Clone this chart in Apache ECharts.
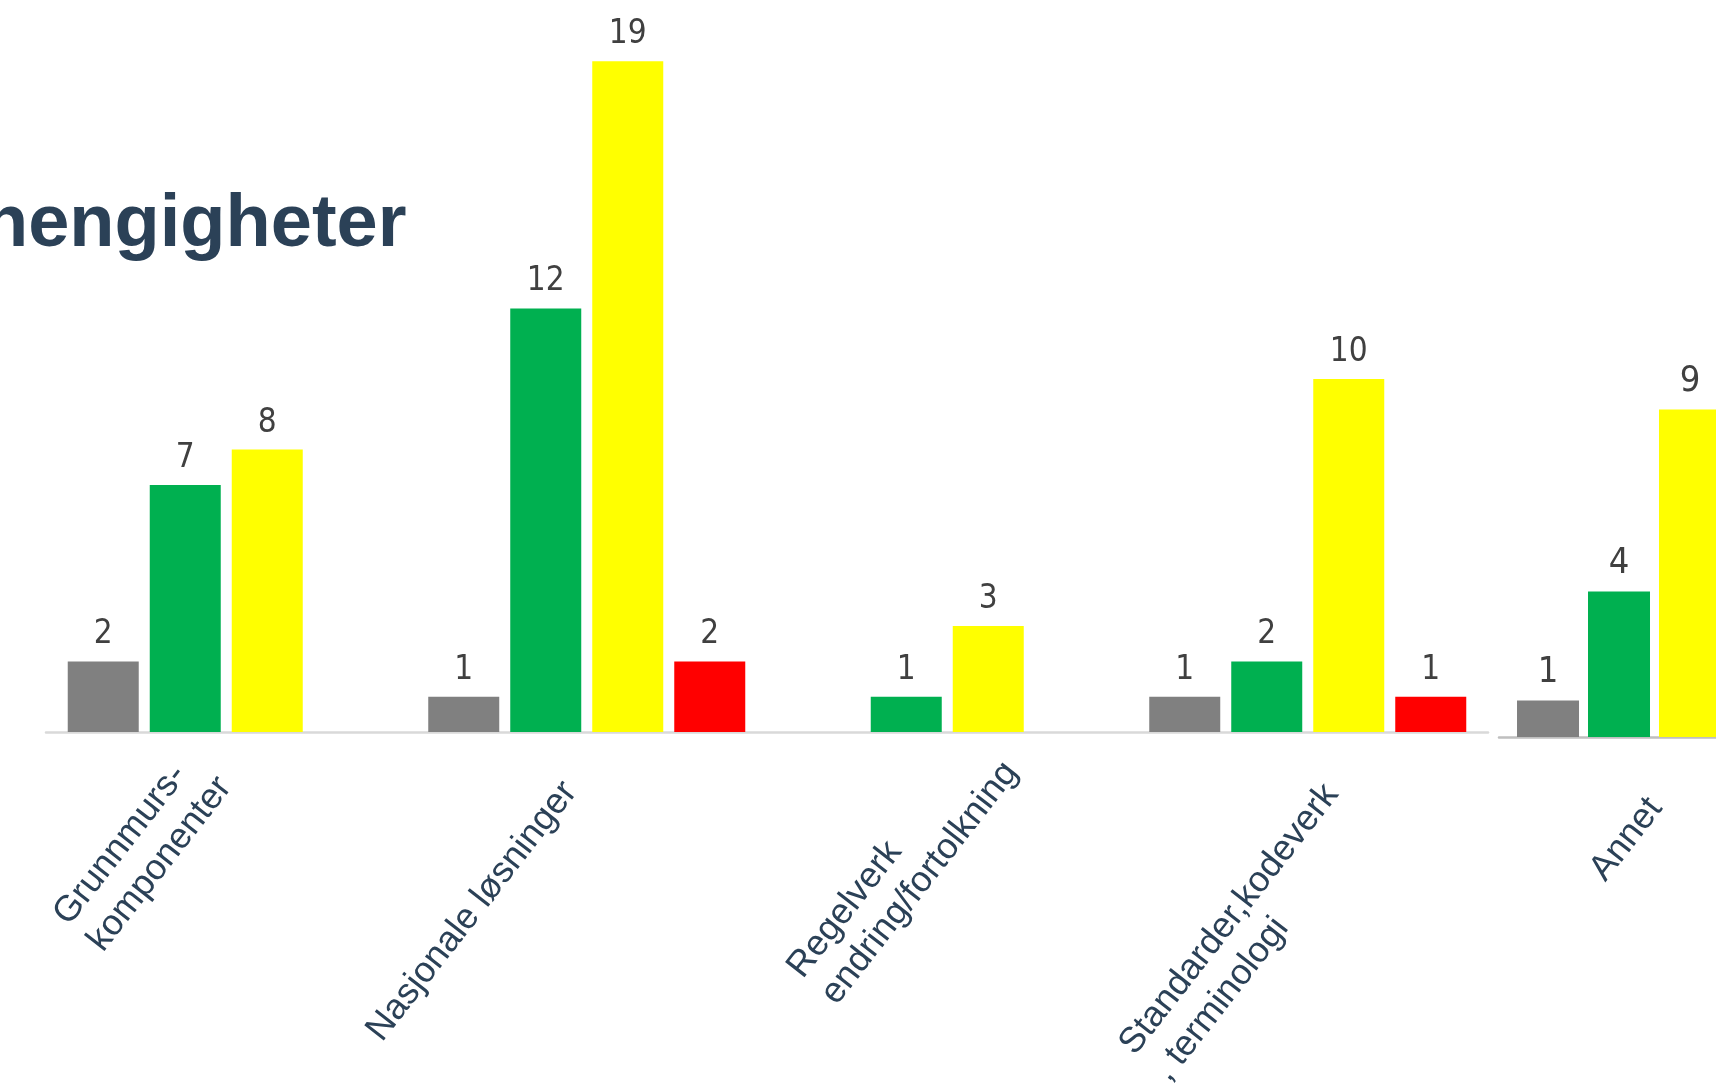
<!DOCTYPE html>
<html>
<head>
<meta charset="utf-8">
<script src="https://cdn.jsdelivr.net/npm/echarts@6/dist/echarts.min.js"></script>
<style>
  html, body { margin: 0; padding: 0; background: #fff; }
  #chart { width: 1716px; height: 1083px; }
</style>
</head>
<body>
<div id="chart"></div>
<script>
// main chart
const categories = ['Grunnmurs-\nkomponenter', 'Nasjonale løsninger', 'Regelverk\nendring/fortolkning', 'Standarder,kodeverk\n, terminologi'];
const grayValues = [2, 1, null, 1];
const greenValues = [7, 12, 1, 2];
const yellowValues = [8, 19, 3, 10];
const redValues = [null, 2, null, 1];

// the "Annet" piece on the right (cut off in the slide)
const annetCategories = ['Annet'];
const annetGray = [1];
const annetGreen = [4];
const annetYellow = [9];
const annetRed = [null];

const seriesNames = ['Grå', 'Grønn', 'Gul', 'Rød'];
const colors = ['#808080', '#00B050', '#FFFF00', '#FF0000'];

const textBlue = '#2b4157';
const labelFont = "'Liberation Sans', Arial, sans-serif";
const numberFont = "'Liberation Sans Narrow', 'DejaVu Sans Condensed', sans-serif";

// tilted category labels: block width + padding to put each label where the slide has it
const mainLabelBox = [
  { width: 250, padding: [15, 0, 0, 0] },
  { width: 371, padding: [40, 0, 0, 0] },
  { width: 284, padding: [100, 0, 0, 0] },
  { width: 362, padding: [150, 0, 0, 0] }
];
const annetLabelBox = [{ width: 145, padding: [82, 0, 0, 0] }];

function richFor(prefix, boxes) {
  const rich = {};
  boxes.forEach((b, i) => {
    rich[prefix + i] = {
      width: b.width, align: 'left', fontSize: 36, lineHeight: 43,
      color: textBlue, fontFamily: labelFont
    };
  });
  return rich;
}

function axisData(cats, boxes) {
  return cats.map((c, i) => ({ value: c, textStyle: { padding: boxes[i].padding } }));
}

function labelFormatter(prefix) {
  return (value, index) => value.split('\n').map(l => '{' + prefix + index + '|' + l + '}').join('\n');
}

function barSeries(name, data, color, axisIdx, barWidth, barGap, fontSize) {
  return {
    name: name,
    type: 'bar',
    xAxisIndex: axisIdx,
    yAxisIndex: axisIdx,
    data: data,
    barWidth: barWidth,
    barGap: barGap,
    itemStyle: { color: color },
    label: {
      show: true,
      position: 'top',
      distance: 10,
      color: '#404040',
      fontSize: fontSize,
      fontFamily: numberFont
    }
  };
}

const chart = echarts.init(document.getElementById('chart'));
chart.setOption({
  animation: false,
  backgroundColor: '#ffffff',
  title: {
    text: 'hengigheter',
    left: -22,
    top: 184,
    textStyle: { color: textBlue, fontSize: 74, fontWeight: 'bold', fontFamily: labelFont }
  },
  grid: [
    { left: 46, width: 1442, top: 26, bottom: 351, outerBoundsMode: 'none' },
    { left: 1499, width: 311, top: 9, bottom: 346, outerBoundsMode: 'none' }
  ],
  xAxis: [
    {
      type: 'category',
      gridIndex: 0,
      data: axisData(categories, mainLabelBox),
      axisLine: { lineStyle: { color: '#d9d9d9', width: 2.5 } },
      axisTick: { show: false },
      axisLabel: {
        interval: 0,
        rotate: 52,
        margin: 0,
        align: 'right',
        verticalAlign: 'middle',
        hideOverlap: false,
        formatter: labelFormatter('m'),
        rich: richFor('m', mainLabelBox)
      }
    },
    {
      type: 'category',
      gridIndex: 1,
      data: axisData(annetCategories, annetLabelBox),
      axisLine: { lineStyle: { color: '#bfbfbf', width: 2.5 } },
      axisTick: { show: false },
      axisLabel: {
        interval: 0,
        rotate: 52,
        margin: 0,
        align: 'right',
        verticalAlign: 'middle',
        hideOverlap: false,
        formatter: labelFormatter('a'),
        rich: richFor('a', annetLabelBox)
      }
    }
  ],
  yAxis: [
    { type: 'value', gridIndex: 0, min: 0, max: 20, show: false, splitLine: { show: false } },
    { type: 'value', gridIndex: 1, min: 0, max: 20, show: false, splitLine: { show: false } }
  ],
  series: [
    barSeries(seriesNames[0], grayValues, colors[0], 0, 71, '15.5%', 33),
    barSeries(seriesNames[1], greenValues, colors[1], 0, 71, '15.5%', 33),
    barSeries(seriesNames[2], yellowValues, colors[2], 0, 71, '15.5%', 33),
    barSeries(seriesNames[3], redValues, colors[3], 0, 71, '15.5%', 33),
    barSeries(seriesNames[0], annetGray, colors[0], 1, 62, '14.5%', 36),
    barSeries(seriesNames[1], annetGreen, colors[1], 1, 62, '14.5%', 36),
    barSeries(seriesNames[2], annetYellow, colors[2], 1, 62, '14.5%', 36),
    barSeries(seriesNames[3], annetRed, colors[3], 1, 62, '14.5%', 36)
  ]
});
</script>
</body>
</html>
